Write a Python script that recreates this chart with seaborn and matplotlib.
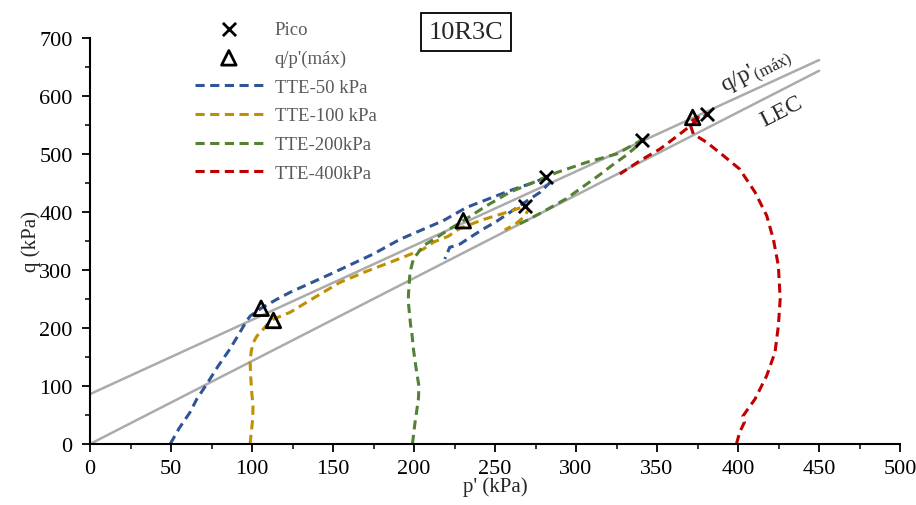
"""Trayectorias de esfuerzos q-p' para la muestra 10R3C (ensayos TTE)."""

import numpy as np
import pandas as pd
import seaborn as sns
import matplotlib.pyplot as plt
from matplotlib.ticker import MultipleLocator

# ---------------------------------------------------------------------------
# Datos (p' y q en kPa)
# ---------------------------------------------------------------------------

p_50 = [49.5, 55, 61.7, 66, 72, 79, 86.4, 92, 96.7, 99, 105.6, 115, 123.5, 150,
        174.9, 191.4, 218, 232.5, 259, 275, 281.3, 284, 277.8, 268, 259, 251,
        242.8, 235, 228.4, 222, 219]
q_50 = [0, 27, 54.6, 78, 103, 134, 164, 190, 212.6, 221, 234, 249, 261.5, 295,
        327.6, 353, 385, 408, 436.7, 452, 460, 451, 434, 416, 399, 384,
        370.7, 357, 344.8, 339, 319]

p_100 = [98.8, 100.4, 100.6, 99.8, 99.2, 98.8, 99.5, 100.8, 103, 106, 109, 113,
         123.5, 140, 154.3, 170, 185, 195, 205.7, 212, 221, 228.4, 242.8, 259,
         268.5, 270.6, 268, 263, 256]
q_100 = [0, 43, 66, 89, 115, 141, 160, 175, 186, 195, 205, 215,
         227, 255, 278.7, 297, 313, 324, 336, 348, 358, 372, 387, 401,
         410, 404, 392, 380, 369]

p_200 = [199, 200.6, 202.7, 203, 201.6, 199.6, 198.6, 197.9, 196.5, 196.5,
         197.5, 199.6, 205.8, 214, 222, 230.4, 244.9, 259, 273.7, 288, 306.6,
         325, 340.5, 337, 330, 322, 315, 305, 294, 280, 270, 263]
q_200 = [0, 37, 77.6, 100, 123.6, 164, 192.6, 204, 244, 255.7,
         296, 319, 342, 356, 370.7, 385, 411, 434, 451, 468, 485.7,
         500, 524, 512, 496, 480, 465, 445, 423, 401, 386, 377]

p_400 = [399, 401, 404, 403, 406, 410.5, 417.7, 422.8, 424.9, 426, 424.9, 421.8,
         417.7, 410.5, 401, 391, 380.7, 372.4, 370, 375, 381.7, 374.5, 362,
         351.8, 339.5, 327]
q_400 = [0, 20, 38, 48, 60, 77.6, 117.8, 158, 204, 250, 307, 353,
         393.6, 434, 474, 497, 520, 534.5, 554.6, 563, 569, 557, 530,
         508.6, 488.5, 465.5]

series = ["TTE-50 kPa", "TTE-100 kPa", "TTE-200kPa", "TTE-400kPa"]
colores = ["#2F5597", "#BF9000", "#548235", "#C00000"]

# Puntos de pico y de q/p' máximo
pico_p = [281.3, 268.5, 340.5, 381.0]
pico_q = [460, 411, 524, 569]
qp_max_p = [105.6, 113.2, 230.4, 372.0]
qp_max_q = [234, 213, 385, 563]

# Rectas LEC y q/p'(máx)
p_rectas = [0, 450]
pendiente_lec = 1.43
pendiente_max = 1.28
intercepto_max = 86

# ---------------------------------------------------------------------------
# Gráfica
# ---------------------------------------------------------------------------

sns.set_theme(style="ticks")
plt.rcParams["font.family"] = ["Liberation Serif", "DejaVu Serif"]
plt.rcParams["mathtext.fontset"] = "custom"
plt.rcParams["mathtext.rm"] = "Liberation Serif"

fig = plt.figure(figsize=(9.16, 5.06), dpi=100)
ax = fig.add_axes([0.0983, 0.1206, 0.8843, 0.8023])

gris = "#ABABAB"
p_r = np.array(p_rectas, dtype=float)
sns.lineplot(x=p_r, y=pendiente_lec * p_r, color=gris, lw=1.8, ax=ax)
sns.lineplot(x=p_r, y=intercepto_max + pendiente_max * p_r, color=gris, lw=1.8, ax=ax)

datos = [(p_50, q_50), (p_100, q_100), (p_200, q_200), (p_400, q_400)]
for (p, q), nombre, col in zip(datos, series, colores):
    sns.lineplot(x=p, y=q, sort=False, estimator=None, color=col, lw=2.2,
                 linestyle=(0, (3, 1.8)), label=nombre, ax=ax)

sns.scatterplot(x=pico_p, y=pico_q, marker="x", s=90, color="black",
                linewidth=2.0, label="Pico", ax=ax, zorder=5)
sns.scatterplot(x=qp_max_p, y=qp_max_q, marker="^", s=110, facecolor="none",
                edgecolor="black", linewidth=2.0, label="q/p'(máx)", ax=ax, zorder=5)

ax.set_xlim(0, 500)
ax.set_ylim(0, 700)
ax.xaxis.set_major_locator(MultipleLocator(50))
ax.xaxis.set_minor_locator(MultipleLocator(25))
ax.yaxis.set_major_locator(MultipleLocator(100))
ax.yaxis.set_minor_locator(MultipleLocator(50))
ax.tick_params(which="major", length=5.5, width=1.3, labelsize=16, colors="black")
ax.tick_params(axis="y", which="major", pad=7)
ax.tick_params(axis="x", which="major", pad=5)
ax.tick_params(which="minor", length=3.5, width=1.3)
for lado in ["top", "right"]:
    ax.spines[lado].set_visible(False)
for lado in ["left", "bottom"]:
    ax.spines[lado].set_linewidth(1.5)
    ax.spines[lado].set_color("black")

ax.set_xlabel("p' (kPa)", fontsize=15, labelpad=-1)
ax.set_ylabel("q (kPa)", fontsize=15, labelpad=-1)

# Etiquetas de las rectas
ax.text(411.5, 643, r"q/p'$_{\mathregular{(máx)}}$", fontsize=17, rotation=27,
        ha="center", va="center", rotation_mode="anchor")
ax.text(427, 575, "LEC", fontsize=17, rotation=27, ha="center", va="center",
        rotation_mode="anchor")

# Caja con el nombre de la muestra
ax.text(0.464, 1.014, "10R3C", transform=ax.transAxes, fontsize=19,
        ha="center", va="center", clip_on=False,
        bbox=dict(boxstyle="square,pad=0.3", fc="white", ec="black", lw=1.3))

handles, labels = ax.get_legend_handles_labels()
if ax.get_legend() is not None:
    ax.get_legend().remove()
orden = [labels.index(n) for n in ["Pico", "q/p'(máx)"] + series]
leg = fig.legend([handles[i] for i in orden], [labels[i] for i in orden],
                 loc="upper left", bbox_to_anchor=(0.213, 0.957), frameon=False,
                 fontsize=13.5, handlelength=3.6, handletextpad=0.65,
                 labelspacing=0.62, borderpad=0, borderaxespad=0)
for t in leg.get_texts():
    t.set_color("#595959")

fig.savefig("out.png", dpi=100)
